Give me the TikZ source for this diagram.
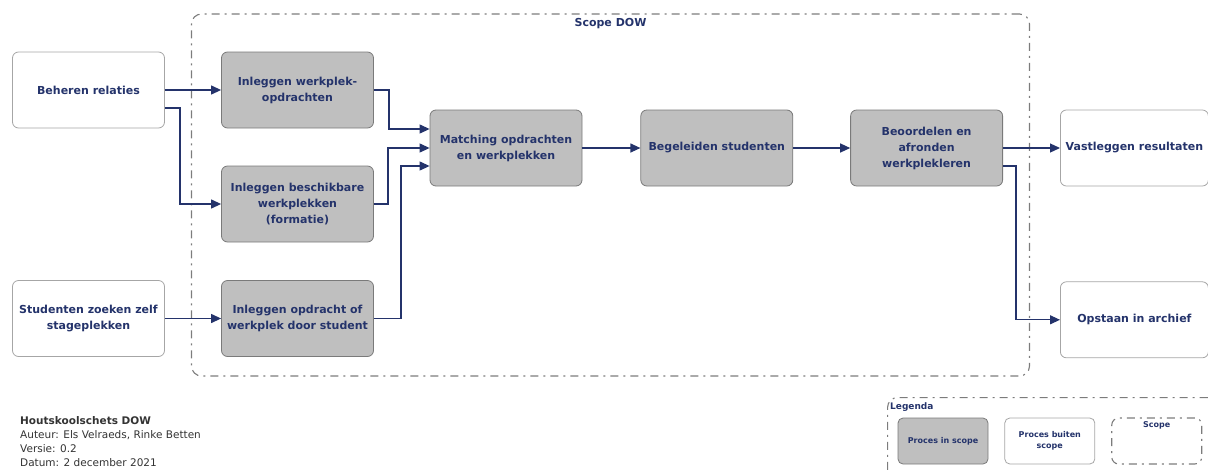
\documentclass[tikz,border=0pt]{standalone}
\usepackage{fontspec}
\setmainfont{DejaVu Sans}
\usepackage{tikz}
\usetikzlibrary{positioning,shapes.misc,arrows,arrows.meta}
\definecolor{navy}{HTML}{24336B}
\definecolor{boxgray}{HTML}{BFBFBF}
\definecolor{edgegray}{HTML}{7A7A7A}
\definecolor{linegray}{HTML}{7C7C7C}

\begin{document}
\begin{tikzpicture}[x=1pt,y=-1pt,node distance=0.5cm]
                \tikzstyle{inscope} = [rectangle, rounded corners=6pt, minimum width=152pt, minimum height=76pt, align=center, draw=edgegray, fill=boxgray, text=navy, font=\fontsize{11}{16}\selectfont\bfseries, line width=0.8pt]
                \tikzstyle{outscope} = [inscope, draw=gray!70, fill=white]
                \tikzstyle{scopebox} = [rectangle, rounded corners=10pt, draw=linegray, line width=1.1pt, dash pattern=on 8pt off 5pt on 2pt off 5pt]
                \tikzstyle{legbox} = [rectangle, rounded corners=5pt, minimum width=90pt, minimum height=46pt, align=center, text=navy, font=\fontsize{8}{11}\selectfont\bfseries, line width=0.8pt]
                \tikzstyle{arrow} = [line width=1.2pt, color=navy, -{Triangle[length=10pt,width=9pt]}]
                \useasboundingbox (0,0) rectangle (1208,472);

                % scope DOW
                \node (scope) [scopebox, minimum width=838pt, minimum height=362pt] at (610.5,195) {};
                \node (scopelabel) [below=1pt of scope.north, text=navy, font=\fontsize{11}{13}\selectfont\bfseries] {Scope DOW};

                \node (node1) [outscope] at (88.5,90) {Beheren relaties};
                \node (node2) [outscope] at (88.5,318.5) {Studenten zoeken zelf\\stageplekken};
                \node (node3) [inscope] at (297.5,90) {Inleggen werkplek-\\opdrachten};
                \node (node4) [inscope] at (297.5,204) {Inleggen beschikbare\\werkplekken\\(formatie)};
                \node (node5) [inscope] at (297.5,318.5) {Inleggen opdracht of\\werkplek door student};
                \node (node6) [inscope] at (506,148) {Matching opdrachten\\en werkplekken};
                \node (node7) [inscope, right=58pt of node6] {Begeleiden studenten};
                \node (node8) [inscope, right=57pt of node7] {Beoordelen en\\afronden\\werkplekleren};
                \node (node9) [outscope, minimum width=148pt, right=57pt of node8] {Vastleggen resultaten};
                \node (node10) [outscope, minimum width=148pt, below=95pt of node9] {Opstaan in archief};

                \draw [arrow] (node1.east) -- (node3.west);
                \draw [arrow] ([yshift=-18pt]node1.east) -- ++(15pt,0) |- (node4.west);
                \draw [arrow] (node2) -- (node5);
                \draw [arrow] (node3.east) -- ++(15pt,0) |- ([yshift=19pt]node6.west);
                \draw [arrow] (node4.east) -- ++(14pt,0) |- (node6.west);
                \draw [arrow] (node5.east) -- ++(27pt,0) |- ([yshift=-18pt]node6.west);
                \draw [arrow] (node6) -- (node7);
                \draw [arrow] (node7) -- (node8);
                \draw [arrow] (node8) -- (node9);
                \draw [arrow] ([yshift=-18pt]node8.east) -- ++(13pt,0) |- (node10.west);

                % legenda
                \node (legend) [scopebox, minimum width=330pt, minimum height=90pt, anchor=north west] at (887,397) {};
                \node (leglabel) [anchor=north west, inner sep=1pt, text=navy, font=\fontsize{9}{10}\selectfont\bfseries] at (889,401) {Legenda};
                \node (leg1) [legbox, draw=edgegray, fill=boxgray] at (943,441) {Proces in scope};
                \node (leg2) [legbox, draw=gray!70, fill=white, right=16pt of leg1] {Proces buiten\\scope};
                \node (leg3) [legbox, scopebox, rounded corners=7pt, right=16pt of leg2] {};
                \node (leg3label) [below=1pt of leg3.north, text=navy, font=\fontsize{8}{10}\selectfont\bfseries] {Scope};

                % info
                \node (info) [anchor=north west, align=left, inner sep=0pt, text=black!80, font=\fontsize{10.5}{14}\selectfont] at (20,416) {\textbf{Houtskoolschets DOW}\\Auteur: Els Velraeds, Rinke Betten\\Versie: 0.2\\Datum: 2 december 2021};
            \end{tikzpicture}
\end{document}
